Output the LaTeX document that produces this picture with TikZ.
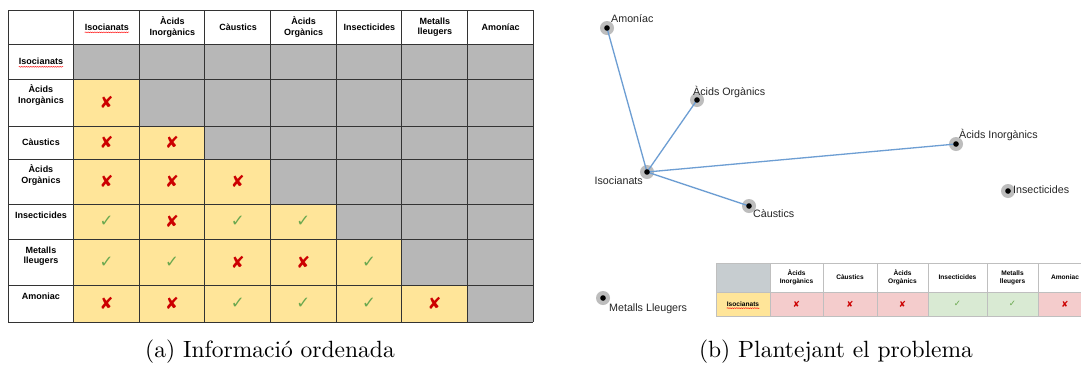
\documentclass[tikz,border=0pt]{standalone}
\usepackage{fontspec}
\newfontfamily\arialf{Liberation Sans}
\newfontfamily\symf{DejaVu Sans}
\usetikzlibrary{decorations.pathmorphing}
\definecolor{tgrey}{HTML}{B7B7B7}
\definecolor{tyellow}{HTML}{FFE599}
\definecolor{tred}{HTML}{CC0000}
\definecolor{tgreen}{HTML}{6AA84F}
\definecolor{ered}{HTML}{F4CCCC}
\definecolor{egreen}{HTML}{D9EAD3}
\definecolor{eblue}{HTML}{C7CDD0}
\definecolor{edgeblue}{HTML}{6D9ED3}
\definecolor{halo}{HTML}{BDBDBD}
\definecolor{sline}{HTML}{BFBFBF}
\tikzset{
  hdr/.style={font=\arialf\bfseries\fontsize{9}{10.5}\selectfont, align=center, inner sep=0pt},
  shdr/.style={font=\arialf\bfseries\fontsize{6.6}{7.8}\selectfont, align=center, inner sep=0pt},
  bigx/.style={font=\symf\fontsize{16.5}{16.5}\selectfont, text=tred, inner sep=0pt},
  bigc/.style={font=\symf\fontsize{16.5}{16.5}\selectfont, text=tgreen, inner sep=0pt},
  smallx/.style={font=\symf\fontsize{8.5}{8.5}\selectfont, text=tred, inner sep=0pt},
  smallc/.style={font=\symf\fontsize{8.5}{8.5}\selectfont, text=tgreen, inner sep=0pt},
  halonode/.style={circle, fill=halo, minimum size=14pt, inner sep=0pt},
  glabel/.style={font=\arialf\fontsize{10.7}{12}\selectfont, text=black!85, inner sep=0pt},
  gedge/.style={draw=edgeblue, line width=1.3pt},
  squig/.style={draw=red, line width=0.35pt, decorate, decoration={snake, amplitude=0.45pt, segment length=1.8pt}},
  capt/.style={font=\fontsize{10}{12}\selectfont, scale=2.35, inner sep=0pt}
}
\begin{document}
\begin{tikzpicture}[x=1pt,y=-1pt]
\useasboundingbox (0,0) rectangle (1081,365);
\fill[white] (0,0) rectangle (1081,365);

% ---------------- Table (a) ----------------
\def\tw{65.625}
\foreach \r/\ya/\yb in {1/44/79,2/79/126,3/126/159,4/159/204,5/204/239,6/239/285,7/285/322}{
  \foreach \c in {1,...,7}{
    \pgfmathsetmacro\xa{8+\tw*\c}
    \pgfmathsetmacro\xb{8+\tw*(\c+1)}
    \ifnum\c<\r
      \fill[tyellow] (\xa,\ya) rectangle (\xb,\yb);
    \else
      \fill[tgrey] (\xa,\ya) rectangle (\xb,\yb);
    \fi
  }
}
\foreach \y in {10,44,79,126,159,204,239,285,322}{
  \draw[black!80, line width=0.8pt] (8,\y) -- (533,\y);
}
\foreach \c in {0,...,8}{
  \pgfmathsetmacro\xa{8+\tw*\c}
  \draw[black!80, line width=0.8pt] (\xa,10) -- (\xa,322);
}
\node[hdr] (h1) at (106.8,27) {Isocianats};
\draw[squig] ([yshift=-1.8pt]h1.south west) -- ([yshift=-1.8pt]h1.south east);
\node[hdr] (h2) at (172.4,27) {Àcids\\Inorgànics};
\node[hdr] (h3) at (238.1,27) {Càustics};
\node[hdr] (h4) at (303.7,27) {Àcids\\Orgànics};
\node[hdr] (h5) at (369.3,27) {Insecticides};
\node[hdr] (h6) at (434.9,27) {Metalls\\lleugers};
\node[hdr] (h7) at (500.5,27) {Amoníac};
\node[hdr] (r1) at (41,61.5) {Isocianats};
\draw[squig] ([yshift=-1.8pt]r1.south west) -- ([yshift=-1.8pt]r1.south east);
\node[hdr] (r2) at (41,95) {Àcids\\Inorgànics};
\node[hdr] (r3) at (41,142.5) {Càustics};
\node[hdr] (r4) at (41,175) {Àcids\\Orgànics};
\node[hdr] (r5) at (41,215) {Insecticides};
\node[hdr] (r6) at (41,256) {Metalls\\lleugers};
\node[hdr] (r7) at (41,296) {Amoniac};
\foreach \r/\yc/\marks in {2/102.5/{1/x},3/142.5/{1/x,2/x},4/181.5/{1/x,2/x,3/x},
   5/221.5/{1/c,2/x,3/c,4/c},6/262/{1/c,2/c,3/x,4/x,5/c},7/303.5/{1/x,2/x,3/c,4/c,5/c,6/x}}{
  \foreach \c/\t in \marks{
    \pgfmathsetmacro\xm{8+\tw*(\c+0.5)}
    \if x\t
      \node[bigx] (m\r\c) at (\xm,\yc) {✘};
    \else
      \node[bigc] (m\r\c) at (\xm,\yc) {✓};
    \fi
  }
}

% ---------------- Graph (b) ----------------
\foreach \n/\x/\y in {am/607/28, ao/697/100, ai/956/144, is/647/172, ca/749/206, in/1008/191, ml/603/298}{
  \node[halonode] (\n) at (\x,\y) {};
}
\foreach \t in {am,ao,ai,ca}{
  \draw[gedge] (is.center) -- (\t.center);
}
\foreach \n in {am,ao,ai,is,ca,in,ml}{
  \fill[black] (\n.center) circle (2.8pt);
}
\node[glabel, anchor=west] (lam) at (611,19) {Amoníac};
\node[glabel, anchor=west] (lao) at (693,92) {Àcids Orgànics};
\node[glabel, anchor=west] (lai) at (959,135) {Àcids Inorgànics};
\node[glabel, anchor=east] (lis) at (643,181) {Isocianats};
\node[glabel, anchor=west] (lca) at (753,214) {Càustics};
\node[glabel, anchor=west] (lin) at (1013,190) {Insecticides};
\node[glabel, anchor=west] (lml) at (609,309) {Metalls Lleugers};

% ---------------- Small table ----------------
\begin{scope}
\clip (0,0) rectangle (1081,365);
\fill[eblue] (716,263) rectangle (770,292);
\fill[tyellow] (716,292) rectangle (770,316);
\foreach \xa/\xb/\col in {770/823/ered, 823/877/ered, 877/928/ered, 928/987/egreen, 987/1038/egreen, 1038/1092/ered}{
  \fill[\col] (\xa,292) rectangle (\xb,316);
}
\foreach \y in {263,292,316}{
  \draw[sline, line width=0.7pt] (716,\y) -- (1092,\y);
}
\foreach \x in {716,770,823,877,928,987,1038}{
  \draw[sline, line width=0.7pt] (\x,263) -- (\x,316);
}
\node[shdr] (s1) at (796.5,277.5) {Àcids\\Inorgànics};
\node[shdr] (s2) at (850,277.5) {Càustics};
\node[shdr] (s3) at (902.5,277.5) {Àcids\\Orgànics};
\node[shdr] (s4) at (957.5,277.5) {Insecticides};
\node[shdr] (s5) at (1012.5,277.5) {Metalls\\lleugers};
\node[shdr] (s6) at (1065,277.5) {Amoniac};
\node[shdr] (s0) at (743,304) {Isocianats};
\draw[squig] ([yshift=-1.5pt]s0.south west) -- ([yshift=-1.5pt]s0.south east);
\node[smallx] (x1) at (796.5,304) {✘};
\node[smallx] (x2) at (850,304) {✘};
\node[smallx] (x3) at (902.5,304) {✘};
\node[smallc] (c4) at (957.5,304) {✓};
\node[smallc] (c5) at (1012.5,304) {✓};
\node[smallx] (x6) at (1065,304) {✘};
\end{scope}

% ---------------- Captions ----------------
\node[capt] (capa) at (270,352) {(a) Informació ordenada};
\node[capt] (capb) at (836,352) {(b) Plantejant el problema};
\end{tikzpicture}
\end{document}
